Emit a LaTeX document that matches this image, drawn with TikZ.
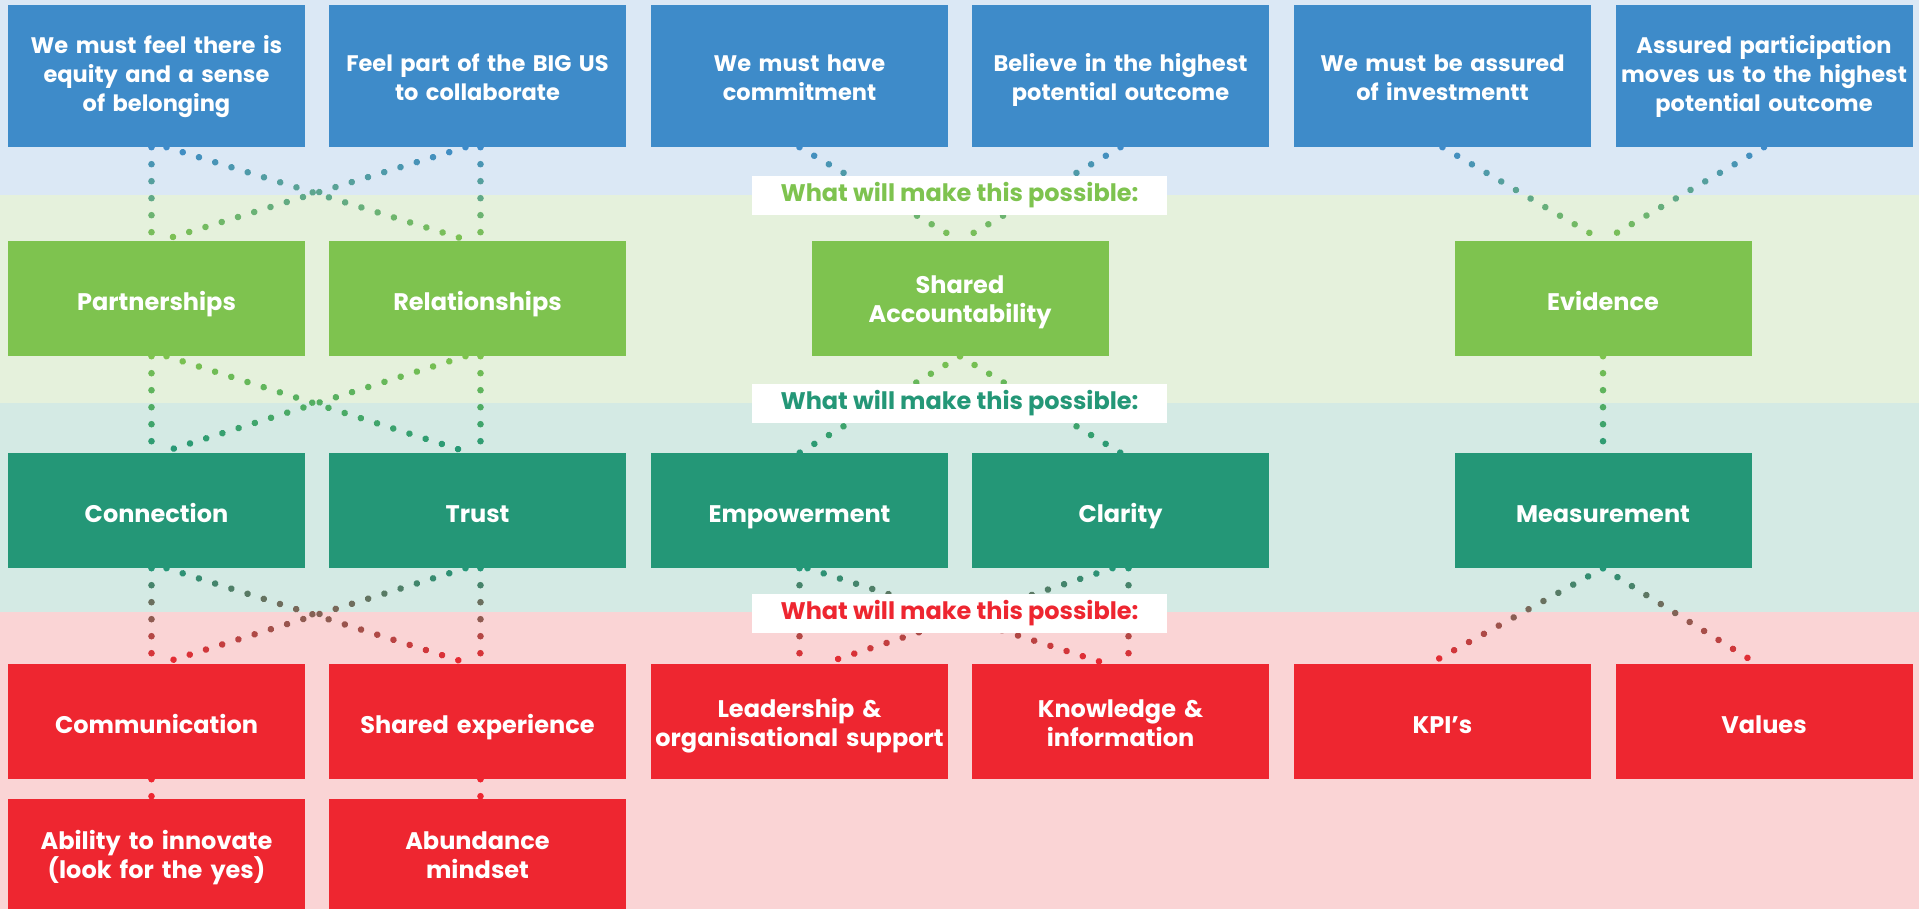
\documentclass[tikz,border=0pt]{standalone}
\usepackage{fontspec}
\setmainfont{Poppins}
\usetikzlibrary{decorations.markings,backgrounds}
\definecolor{bandBlue}{HTML}{DBE8F5}
\definecolor{bandGreen}{HTML}{E5F1DC}
\definecolor{bandTeal}{HTML}{D4EAE4}
\definecolor{bandPink}{HTML}{FAD4D5}
\definecolor{boxBlue}{HTML}{3E8BC9}
\definecolor{boxGreen}{HTML}{7EC34F}
\definecolor{boxTeal}{HTML}{249777}
\definecolor{boxRed}{HTML}{EE2630}
\tikzset{
  dotline/.style 2 args={
    postaction={decorate},
    decoration={markings,
      mark=between positions 0 and 1 step 17pt with {%
        \pgfmathsetmacro\dotpct{(\pgfkeysvalueof{/pgf/decoration/mark info/distance from start}/\pgfdecoratedpathlength)*100}%
        \pgfmathtruncatemacro\dotpcti{\dotpct}%
        \colorlet{dotc}{#2!\dotpcti!#1}%
        \fill[dotc] (0,0) circle[radius=3.3pt];
      }
    }
  }
}
\begin{document}
\begin{tikzpicture}[x=1pt,y=-1pt,
  box/.style={rectangle, inner sep=0pt, minimum width=297pt, minimum height=115pt,
    text width=294pt, align=center, text=white,
    font=\fontsize{24}{29}\selectfont\bfseries},
  oneline/.style={text height=23pt, text depth=0pt},
  twoline/.style={text height=20pt, text depth=29pt},
  threeline/.style={text height=20pt, text depth=64pt},
  topbox/.style={box, fill=boxBlue, minimum height=142pt,
    font=\fontsize{22.5}{29}\selectfont\bfseries},
  gbox/.style={box, fill=boxGreen},
  tbox/.style={box, fill=boxTeal},
  rbox/.style={box, fill=boxRed},
  lbl/.style={rectangle, fill=white, inner sep=0pt, minimum width=415pt, minimum height=39pt,
    font=\fontsize{24}{28}\selectfont\bfseries}
]
\useasboundingbox (0,0) rectangle (1919,909);
% top row
\node[topbox, threeline] (b1) at (156.5,76) {We must feel there is\\equity and a sense\\of belonging};
\node[topbox, twoline] (b2) at (477.5,76) {Feel part of the BIG US\\to collaborate};
\node[topbox, twoline] (b3) at (799.5,76) {We must have\\commitment};
\node[topbox, twoline] (b4) at (1120.5,76) {Believe in the highest\\potential outcome};
\node[topbox, twoline] (b5) at (1442.5,76) {We must be assured\\of investmentt};
\node[topbox, threeline] (b6) at (1764,76) {Assured participation\\moves us to the highest\\potential outcome};
% green row
\node[gbox, oneline] (g1) at (156.5,298.5) {Partnerships};
\node[gbox, oneline] (g2) at (477.5,298.5) {Relationships};
\node[gbox, twoline] (sa) at (960,298.5) {Shared\\Accountability};
\node[gbox, oneline] (ev) at (1603,298.5) {Evidence};
% teal row
\node[tbox, oneline] (t1) at (156.5,510.5) {Connection};
\node[tbox, oneline] (t2) at (477.5,510.5) {Trust};
\node[tbox, oneline] (em) at (799.5,510.5) {Empowerment};
\node[tbox, oneline] (cl) at (1120.5,510.5) {Clarity};
\node[tbox, oneline] (me) at (1603,510.5) {Measurement};
% red row
\node[rbox, oneline] (r1) at (156.5,721.5) {Communication};
\node[rbox, oneline] (r2) at (477.5,721.5) {Shared experience};
\node[rbox, twoline] (r3) at (799.5,721.5) {Leadership \&\\organisational support};
\node[rbox, twoline] (r4) at (1120.5,721.5) {Knowledge \&\\information};
\node[rbox, oneline] (r5) at (1442.5,721.5) {KPI’s};
\node[rbox, oneline] (r6) at (1764,721.5) {Values};
% bottom row
\node[rbox, twoline, minimum height=110pt] (a1) at (156.5,854) {Ability to innovate\\(look for the yes)};
\node[rbox, twoline, minimum height=110pt] (a2) at (477.5,854) {Abundance\\mindset};
% labels
\node[lbl, text=boxGreen] (l1) at (959.5,195.5) {What will make this possible:};
\node[lbl, text=boxTeal] (l2) at (959.5,403.5) {What will make this possible:};
\node[lbl, text=boxRed] (l3) at (959.5,613.5) {What will make this possible:};

\begin{pgfonlayer}{background}
\fill[bandBlue] (0,0) rectangle (1919,195);
\fill[bandGreen] (0,195) rectangle (1919,403);
\fill[bandTeal] (0,403) rectangle (1919,612);
\fill[bandPink] (0,612) rectangle (1919,909);
% row 1 -> 2
\path[dotline={boxBlue}{boxGreen}] ([xshift=-5pt]b1.south) -- ([xshift=-5pt]g1.north);
\path[dotline={boxBlue}{boxGreen}] ([xshift=10pt]b1.south) -- ([xshift=-8pt]g2.north);
\path[dotline={boxBlue}{boxGreen}] ([xshift=-12pt]b2.south) -- ([xshift=4pt]g1.north);
\path[dotline={boxBlue}{boxGreen}] ([xshift=3pt]b2.south) -- ([xshift=3pt]g2.north);
\path[dotline={boxBlue}{boxGreen}] (b3.south) -- (sa.north);
\path[dotline={boxBlue}{boxGreen}] (b4.south) -- (sa.north);
\path[dotline={boxBlue}{boxGreen}] (b5.south) -- (ev.north);
\path[dotline={boxBlue}{boxGreen}] (b6.south) -- (ev.north);
% row 2 -> 3
\path[dotline={boxGreen}{boxTeal}] ([xshift=-5pt]g1.south) -- ([xshift=-5pt]t1.north);
\path[dotline={boxGreen}{boxTeal}] ([xshift=10pt]g1.south) -- ([xshift=-8pt]t2.north);
\path[dotline={boxGreen}{boxTeal}] ([xshift=-12pt]g2.south) -- ([xshift=4pt]t1.north);
\path[dotline={boxGreen}{boxTeal}] ([xshift=3pt]g2.south) -- ([xshift=3pt]t2.north);
\path[dotline={boxGreen}{boxTeal}] (sa.south) -- (em.north);
\path[dotline={boxGreen}{boxTeal}] (sa.south) -- (cl.north);
\path[dotline={boxGreen}{boxTeal}] (ev.south) -- (me.north);
% row 3 -> 4
\path[dotline={boxTeal}{boxRed}] ([xshift=-5pt]t1.south) -- ([xshift=-5pt]r1.north);
\path[dotline={boxTeal}{boxRed}] ([xshift=10pt]t1.south) -- ([xshift=-8pt]r2.north);
\path[dotline={boxTeal}{boxRed}] ([xshift=-12pt]t2.south) -- ([xshift=4pt]r1.north);
\path[dotline={boxTeal}{boxRed}] ([xshift=3pt]t2.south) -- ([xshift=3pt]r2.north);
\path[dotline={boxTeal}{boxRed}] (em.south) -- (r3.north);
\path[dotline={boxTeal}{boxRed}] ([xshift=8pt]em.south) -- ([xshift=-14pt]r4.north);
\path[dotline={boxTeal}{boxRed}] ([xshift=-8pt]cl.south) -- ([xshift=24pt]r3.north);
\path[dotline={boxTeal}{boxRed}] ([xshift=8pt]cl.south) -- ([xshift=8pt]r4.north);
\path[dotline={boxTeal}{boxRed}] (me.south) -- ([xshift=-13pt]r5.north);
\path[dotline={boxTeal}{boxRed}] (me.south) -- ([xshift=-7pt]r6.north);
% row 4 -> 5
\path[dotline={boxRed}{boxRed}] ([xshift=-5pt]r1.south) -- ([xshift=-5pt]a1.north);
\path[dotline={boxRed}{boxRed}] ([xshift=3pt]r2.south) -- ([xshift=3pt]a2.north);
\end{pgfonlayer}
\end{tikzpicture}
\end{document}
